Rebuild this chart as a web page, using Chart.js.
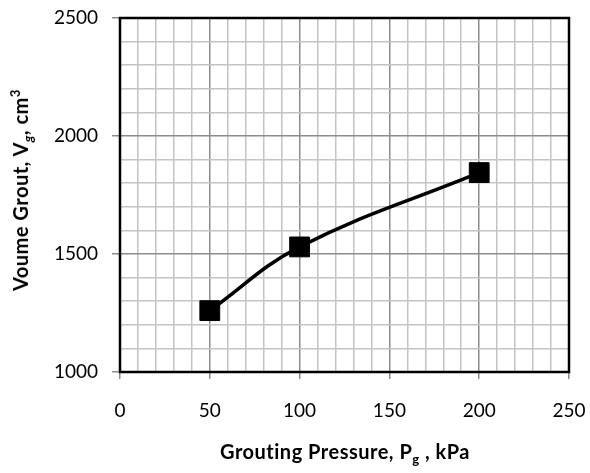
<!DOCTYPE html>
<html>
<head>
    <title>Grout volume vs pressure</title>
    <script src="https://cdn.jsdelivr.net/npm/chart.js"></script>
    <style>
        body { margin: 0; background: #fff; }
        #wrap { position: relative; width: 590px; height: 473px; }
        .title { position: absolute; font-family: Lato, sans-serif; font-weight: bold; font-size: 20px; letter-spacing: 0.5px; color: #000; white-space: nowrap; }
        .title sub, .title sup { font-size: 13px; line-height: 0; }
        #xt { left: 345px; top: 451px; transform: translate(-50%, -50%); }
        #yt { left: 20px; top: 190px; transform: translate(-50%, -50%) rotate(-90deg); }
    </style>
</head>
<body>
<div id="wrap">
    <canvas id="chart" width="590" height="473"></canvas>
    <div class="title" id="xt">Grouting Pressure, P<sub>g</sub> , kPa</div>
    <div class="title" id="yt">Voume Grout, V<sub><i>g</i></sub>, cm<sup>3</sup></div>
</div>

<script>
    // grouting pressure (kPa) and grout volume (cm3)
    const pressure = [50, 100, 200];
    const volume = [1260, 1530, 1845];

    const xTicks = [0, 50, 100, 150, 200, 250];
    const yTicks = [1000, 1500, 2000, 2500];

    const majorGrid = '#8c8c8c';
    const minorGrid = '#c4c4c4';

    const frame = {
        id: 'frame',
        afterDraw(chart) {
            const a = chart.chartArea;
            const c = chart.ctx;
            c.save();
            c.strokeStyle = '#000';
            c.lineWidth = 2.5;
            c.strokeRect(a.left, a.top, a.right - a.left, a.bottom - a.top);
            c.restore();
        }
    };

    const ctx = document.getElementById('chart').getContext('2d');
    const chart = new Chart(ctx, {
        type: 'line',
        data: {
            datasets: [{
                data: pressure.map((p, i) => ({ x: p, y: volume[i] })),
                borderColor: '#000',
                backgroundColor: '#000',
                borderWidth: 3.5,
                tension: 0.4,
                pointStyle: 'rect',
                pointRadius: 14,
                pointHoverRadius: 14,
                pointBorderWidth: 1,
                clip: false
            }]
        },
        plugins: [frame],
        options: {
            responsive: false,
            animation: false,
            layout: { padding: { top: 18, right: 21, left: 0, bottom: 0 } },
            plugins: { legend: { display: false }, tooltip: { enabled: false } },
            scales: {
                x: {
                    type: 'linear',
                    min: 0, max: 250,
                    afterFit(s) { s.height = 101; s.paddingLeft = 0; s.paddingRight = 0; },
                    ticks: {
                        stepSize: 10,
                        autoSkip: false,
                        maxRotation: 0,
                        padding: 20,
                        color: '#000',
                        font: { family: 'Lato', size: 19 },
                        callback: v => xTicks.includes(v) ? v : ''
                    },
                    grid: {
                        color: c => xTicks.includes(c.tick.value) ? majorGrid : minorGrid,
                        lineWidth: 1.5,
                        tickLength: 7,
                        tickColor: c => xTicks.includes(c.tick.value) ? majorGrid : 'rgba(0,0,0,0)'
                    },
                    border: { display: false }
                },
                y: {
                    min: 1000, max: 2500,
                    afterFit(s) { s.width = 120; s.paddingTop = 0; s.paddingBottom = 0; },
                    ticks: {
                        stepSize: 100,
                        autoSkip: false,
                        padding: 14,
                        color: '#000',
                        font: { family: 'Lato', size: 19 },
                        callback: v => yTicks.includes(v) ? v : ''
                    },
                    grid: {
                        color: c => yTicks.includes(c.tick.value) ? majorGrid : minorGrid,
                        lineWidth: 1.5,
                        tickLength: 8,
                        tickColor: c => yTicks.includes(c.tick.value) ? majorGrid : 'rgba(0,0,0,0)'
                    },
                    border: { display: false }
                }
            }
        }
    });
</script>
</body>
</html>
